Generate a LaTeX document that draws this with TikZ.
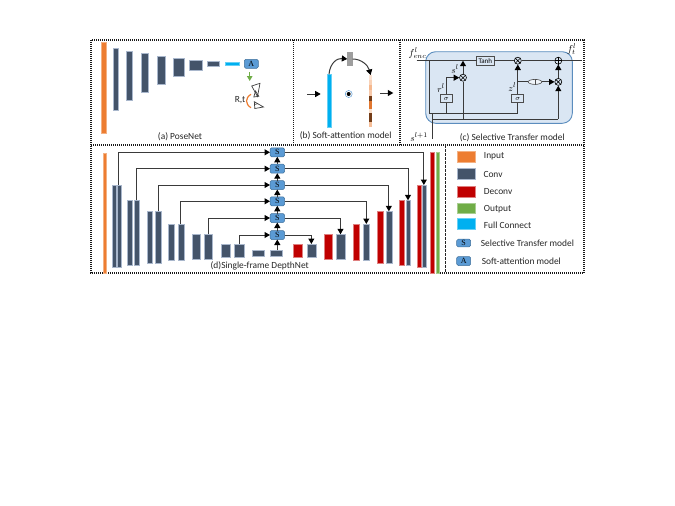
\documentclass[tikz,border=0pt]{standalone}
\usepackage{fontspec}
\setmainfont{Carlito}
\newfontfamily\serifmark{Liberation Serif}
\usepackage{amsmath}
\usetikzlibrary{arrows.meta,calc,shapes.geometric}
\definecolor{cconv}{HTML}{44546A}
\definecolor{cedge}{HTML}{A9B7CC}
\definecolor{cdec}{HTML}{C00000}
\definecolor{cout}{HTML}{70AD47}
\definecolor{cin}{HTML}{ED7D31}
\definecolor{cfc}{HTML}{00B0F0}
\definecolor{cmod}{HTML}{5B9BD5}
\definecolor{cmodb}{HTML}{41719C}
\definecolor{cpanel}{HTML}{DAE6F3}
\definecolor{cpanelb}{HTML}{5B8DBE}
\definecolor{cline}{HTML}{3A3A3A}
\tikzset{
 x=1pt,y=-1pt,
 blockbase/.style={inner sep=0pt,outer sep=0pt,rectangle},
 conv/.style={blockbase,fill=cconv,draw=cedge,line width=.4pt},
 dec/.style={blockbase,fill=cdec,draw=cdec!50,line width=.4pt},
 outp/.style={blockbase,fill=cout,draw=cout!60,line width=.4pt},
 inp/.style={blockbase,fill=cin,draw=cin!60,line width=.4pt},
 fcb/.style={blockbase,fill=cfc,draw=cfc!60,line width=.4pt},
 grayb/.style={blockbase,fill=black!38},
 modb/.style={blockbase,fill=cmod,draw=cmodb,line width=.5pt,rounded corners=1.5pt,font=\fontsize{8}{8}\selectfont\serifmark},
 frameline/.style={line width=1.2pt,dash pattern=on 1pt off 1pt,black!90},
 conn/.style={line width=1pt,draw=cline,-{Triangle[length=5.5pt,width=6pt,black]}},
 wire/.style={line width=1pt,draw=cline},
 sumop/.style={circle,draw=black,line width=.6pt,inner sep=0pt,minimum size=7pt,fill=cpanel},
 sigbox/.style={blockbase,draw=black!70,fill=cpanel,line width=.7pt,font=\fontsize{7}{7}\selectfont},
 lab/.style={inner sep=0pt,font=\fontsize{9.4}{10}\selectfont,text=black!85},
 mlab/.style={inner sep=0pt,font=\fontsize{9.5}{10}\selectfont},
}
\newcommand{\blk}[7][]{%
 \pgfmathsetmacro{\bw}{#4-#2}\pgfmathsetmacro{\bh}{#5-#3}%
 \node[#6,minimum width=\bw pt,minimum height=\bh pt] (#1#7) at ({(#2+#4)/2},{(#3+#5)/2}) {};}
\newcommand{\cross}[1]{%
 \draw[line width=.6pt] (#1.north west) -- (#1.south east) (#1.north east) -- (#1.south west);}
\newcommand{\plusop}[1]{%
 \draw[line width=.6pt] (#1.north) -- (#1.south) (#1.east) -- (#1.west);}
\begin{document}
\begin{tikzpicture}
\useasboundingbox (0,0) rectangle (675,506);
% frames
\draw[frameline] (91,40) rectangle (584,273);
\draw[frameline] (91,145) -- (584,145);
\draw[frameline] (293.5,40) -- (293.5,145);
\draw[frameline] (400,40) -- (400,145);
\draw[line width=.9pt,dash pattern=on 2.5pt off 1.5pt,black!85] (445.5,145) -- (445.5,273);
% (a) PoseNet
\blk{101}{42}{106}{133}{inp}{ain}
\blk{113.3}{48}{117.7}{110}{conv}{a1}
\blk{126.3}{51}{132.3}{100}{conv}{a2}
\blk{141.3}{53.3}{148.3}{92.3}{conv}{a3}
\blk{157.3}{56}{165.3}{83.7}{conv}{a4}
\blk{173}{58}{184}{76.3}{conv}{a5}
\blk{189.3}{59.7}{201.7}{69.7}{conv}{a6}
\blk{207.3}{61.3}{219.3}{65.7}{conv}{a7}
\blk{225}{62}{239}{65.3}{fcb}{afc}
\node[modb,minimum width=14pt,minimum height=9pt] (aA) at (251.3,63.8) {A};
\coordinate (agt) at (249.7,81);
\draw[cout,line width=1.3pt,-{Triangle[length=5pt,width=5.5pt]}] (249.7,72.3) -- (agt);
\draw[line width=.7pt,black!75,fill=white] (251.7,86) -- (260,83.3) -- (257.5,96.5) -- cycle;
\draw[line width=.7pt,black!75] (255.5,91) -- (253.8,97) -- (258.8,96.3) -- cycle;
\draw[line width=.7pt,black!75,fill=white] (254.3,101.7) -- (263.5,107) -- (254.8,108.5) -- cycle;
\draw[line width=.7pt,black!75] (254.5,104.5) -- (258,103.6);
\draw[cin,line width=1.2pt] (251,94.3) .. controls (245,98) and (245,104) .. (251,107.7);
\node[lab] (art) at (240,100) {R,t};
\node[lab] (atitle) at (180,136.7) {(a) PoseNet};
% (b) Soft attention
\blk{327.3}{74.3}{330.7}{127}{fcb}{bfc}
\blk{347.3}{51.7}{352.7}{66.3}{grayb}{bgr}
\blk{369}{75}{372.3}{127}{blockbase}{bco}
\fill[cin!22] (369,75) rectangle (372.3,80);
\fill[cin!35] (369,80) rectangle (372.3,85);
\fill[cin!55] (369,85) rectangle (372.3,90);
\fill[cin!42] (369,90) rectangle (372.3,96);
\fill[black!30!cin!70!black] (369,96) rectangle (372.3,101);
\fill[cin!95!black] (369,101) rectangle (372.3,109.3);
\fill[cin!25] (369,109.3) rectangle (372.3,113.3);
\fill[black!30!cin!70!black] (369,113.3) rectangle (372.3,121.5);
\fill[cin!50] (369,121.5) rectangle (372.3,127);
\draw[conn] (bfc.north) .. controls (330,63) and (337,58) .. (bgr.west);
\draw[conn] (bgr.east) .. controls (361,59) and (368,65) .. (bco.north);
\node[circle,draw=cmod,fill=white,minimum size=7pt,inner sep=0pt,line width=.5pt] (bdot) at (348.7,94) {};
\fill[black] (bdot) circle (2pt);
\coordinate (bl1) at (307.3,94); \coordinate (bl2) at (320.7,94);
\coordinate (br1) at (380,93); \coordinate (br2) at (393.3,93);
\draw[conn] (bl1) -- (bl2);
\draw[conn] (br1) -- (br2);
\node[lab] (btitle) at (345.7,136) {(b) Soft-attention model};
% (c) Selective transfer
\node[draw=cpanelb,fill=cpanel,line width=.9pt,rounded corners=10pt,minimum width=146.6pt,minimum height=71.6pt,inner sep=0pt] (cbox) at (499,87.5) {};
\coordinate (cin1) at (416.7,60.7); \coordinate (cout1) at (581.7,60.7);
\node[sigbox,minimum width=17.3pt,minimum height=9.3pt] (tanh) at (485.3,60.7) {Tanh};
\node[sumop] (mt) at (517.8,60.7) {};
\node[sumop] (pl) at (558.3,60.7) {};
\node[sumop] (mb) at (558.3,81.9) {};
\node[sumop] (ml) at (463,77.7) {};
\node[sigbox,minimum width=12pt,minimum height=8.4pt] (sl) at (446.3,98.5) {$\sigma$};
\node[sigbox,minimum width=12pt,minimum height=8.4pt] (sr) at (517.8,98.5) {$\sigma$};
\coordinate (csplit) at (463,60.7);
\coordinate (cj1) at (429.3,60.7);
\coordinate (cj2) at (429.3,113.3);
\coordinate (cj3) at (432.3,113.3);
\coordinate (cj4) at (432.3,119);
\coordinate (cs) at (432.3,139);
\draw[wire] (cin1) -- (tanh.west);
\draw[wire] (tanh.east) -- (mt.west);
\draw[wire] (mt.east) -- (pl.west);
\draw[wire] (pl.east) -- (cout1);
\draw[wire] (cj1) -- (cj2) -- (sr.south |- cj2) -- (sr.south);
\draw[wire] (sl.south) -- (sl.south |- cj2);
\draw[wire] (cs) -- (cj3);
\draw[wire] (cj4) -- (cj4 -| mb.south);
\draw[conn] (cj4 -| mb.south) -- (mb.south);
\draw[wire] (ml.south) -- (ml.south |- cj4);
\draw[conn] (ml.north) -- (csplit);
\draw[conn] (sl.north) |- (ml.west);
\draw[conn] (sr.north) -- (mt.south);
\draw[conn] (mb.north) -- (pl.south);
\node[ellipse,draw=black!70,fill=white!60!cpanel,line width=.6pt,minimum width=13.5pt,minimum height=5pt,inner sep=0pt] (oval) at (535,81.9) {};
\draw[black!70,line width=.5pt] (oval.north) -- (oval.south);
\draw[wire] (sr.north |- oval) -- (oval.west);
\draw[conn] (oval.east) -- (mb.west);
\cross{mt}\cross{mb}\cross{ml}\plusop{pl}
\node[mlab,font=\fontsize{10}{10}\selectfont] (lfe) at (417.5,53) {$f^{l}_{enc}$};
\node[mlab,font=\fontsize{10}{10}\selectfont] (lft) at (571.7,49.5) {$f^{l}_{t}$};
\node[mlab] (lsl) at (455,69.3) {$s^{l}$};
\node[mlab] (lrl) at (441,87.7) {$r^{l}$};
\node[mlab] (lzl) at (512.3,86.7) {$z^{l}$};
\node[mlab] (lsn) at (419,136.7) {$s^{l+1}$};
\node[lab] (ctitle) at (512.3,137.3) {(c) Selective Transfer model};
% (d) DepthNet
\blk{102.7}{152.7}{106}{272.7}{inp}{din}
\blk{112}{185}{115.7}{267.3}{conv}{e1a}
\blk{117}{185}{120.7}{267.3}{conv}{e1b}
\blk{127.3}{200.3}{132}{264.7}{conv}{e2a}
\blk{134}{200.3}{138.7}{264.7}{conv}{e2b}
\blk{146.7}{211.3}{152}{262.7}{conv}{e3a}
\blk{155.3}{211.3}{160.7}{262.7}{conv}{e3b}
\blk{168.3}{224}{174.3}{260.3}{conv}{e4a}
\blk{177.7}{224}{184}{260.3}{conv}{e4b}
\blk{192.3}{234.3}{200.3}{258.7}{conv}{e5a}
\blk{204.3}{234.3}{212.3}{258.7}{conv}{e5b}
\blk{220.7}{244}{229.7}{257}{conv}{e6a}
\blk{234.3}{244}{243.7}{257}{conv}{e6b}
\blk{252.3}{250.3}{264.3}{256}{conv}{e7a}
\blk{270.3}{250.3}{282.3}{256}{conv}{e7b}
\blk{292.7}{244}{302}{257}{dec}{d6a}
\blk{306.7}{244}{316}{257}{conv}{d6b}
\blk{324}{234.3}{332.3}{258.7}{dec}{d5a}
\blk{336.3}{234.3}{344.7}{258.7}{conv}{d5b}
\blk{353.3}{224}{359.3}{260.3}{dec}{d4a}
\blk{363.3}{224}{369.3}{260.3}{conv}{d4b}
\blk{377.3}{211.3}{383}{262.7}{dec}{d3a}
\blk{386}{211.3}{391.7}{262.7}{conv}{d3b}
\blk{399}{200.3}{403.7}{264.7}{dec}{d2a}
\blk{405.7}{200.3}{410.3}{264.7}{conv}{d2b}
\blk{417.3}{185}{420.7}{267.3}{dec}{d1a}
\blk{422}{185}{425.7}{267.3}{conv}{d1b}
\blk{430.3}{152}{434}{272.7}{dec}{dfin}
\blk{435.7}{152}{439}{272.7}{outp}{dout}
\foreach \n/\y in {1/152.3,2/168.7,3/185,4/201.3,5/218,6/235}{
 \node[modb,minimum width=14.6pt,minimum height=9pt] (S\n) at (277.3,\y) {S};
}
\draw[conn] (e7b.north -| S6) -- (S6.south);
\draw[conn] (S6.north) -- (S5.south);
\draw[conn] (S5.north) -- (S4.south);
\draw[conn] (S4.north) -- (S3.south);
\draw[conn] (S3.north) -- (S2.south);
\draw[conn] (S2.north) -- (S1.south);
\draw[conn] (e1b.north) |- (S1.west);
\draw[conn] (e2b.north) |- (S2.west);
\draw[conn] (e3b.north) |- (S3.west);
\draw[conn] (e4b.north) |- (S4.west);
\draw[conn] (e5b.north) |- (S5.west);
\draw[conn] (e6b.north) |- (S6.west);
\draw[conn] (S1.east) -| (d1b.north);
\draw[conn] (S2.east) -| (d2b.north);
\draw[conn] (S3.east) -| (d3b.north);
\draw[conn] (S4.east) -| (d4b.north);
\draw[conn] (S5.east) -| (d5b.north);
\draw[conn] (S6.east) -| (d6b.north);
\node[lab] (dtitle) at (259.7,266) {(d)Single-frame DepthNet};
% legend
\blk{456.7}{150.7}{475}{161.7}{inp}{k1}
\blk{456.7}{167.7}{475}{179.3}{conv}{k2}
\blk{456.7}{186}{475}{196.7}{dec}{k3}
\blk{456.7}{202.7}{475}{213.3}{outp}{k4}
\blk{456.7}{218.3}{475}{229.3}{fcb}{k5}
\node[modb,minimum width=14pt,minimum height=7.7pt] (k6) at (463.7,243) {S};
\node[modb,minimum width=14pt,minimum height=9pt] (k7) at (463.7,261) {A};
\node[lab,anchor=west] (t1) at (483.7,156.7) {Input};
\node[lab,anchor=west] (t2) at (483.3,174.3) {Conv};
\node[lab,anchor=west] (t3) at (483.7,192) {Deconv};
\node[lab,anchor=west] (t4) at (483.7,209) {Output};
\node[lab,anchor=west] (t5) at (483.7,225) {Full Connect};
\node[lab,anchor=west] (t6) at (480.7,243.3) {Selective Transfer model};
\node[lab,anchor=west] (t7) at (481.7,261) {Soft-attention model};
\end{tikzpicture}
\end{document}
